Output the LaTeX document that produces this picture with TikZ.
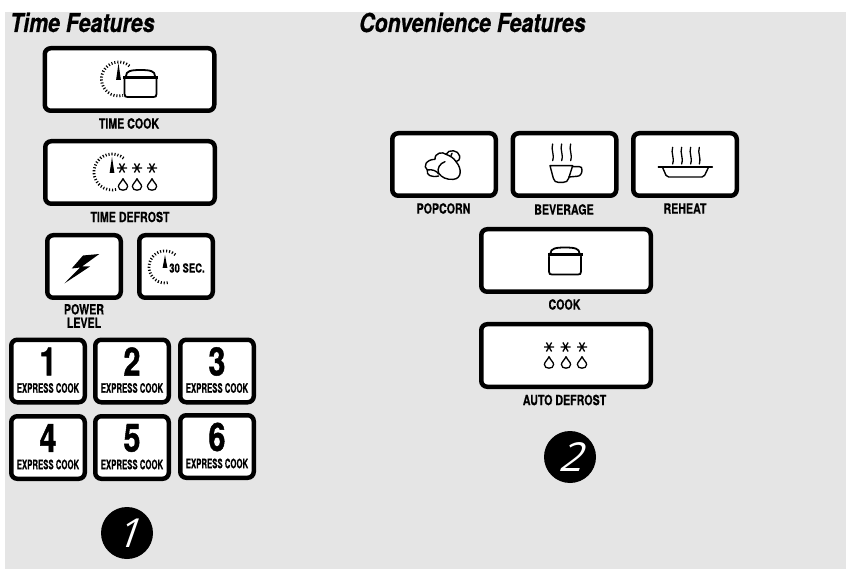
\documentclass[tikz,border=0pt]{standalone}
\usepackage{fontspec}
\setmainfont{Liberation Sans}
\newfontfamily\labfont[FakeStretch=0.76,FakeBold=0.5]{TeX Gyre Heros Bold}
\newfontfamily\keyfont[FakeStretch=0.60,FakeBold=0.5]{TeX Gyre Heros Bold}
\newfontfamily\digitfont[FakeStretch=0.78,FakeBold=1.2]{TeX Gyre Heros Bold}
\newfontfamily\headfont[FakeStretch=0.82,FakeBold=0.6]{TeX Gyre Heros Bold Italic}
\newfontfamily\handfont[FakeSlant=0.35]{Open Sans}
\definecolor{panel}{RGB}{229,229,229}
\tikzset{
  btn/.style={draw=black,fill=white,line width=4.5pt,rounded corners=6pt,minimum height=62.5pt,inner sep=0pt},
  bigbtn/.style={btn,minimum width=169.5pt},
  midbtn/.style={btn,minimum width=103.5pt},
  smallbtn/.style={btn,minimum width=73.5pt},
  keybtn/.style={btn,minimum width=73.5pt},
  lab/.style={font=\labfont\fontsize{14}{14}\selectfont,inner sep=0pt,align=center},
  keylab/.style={font=\keyfont\fontsize{13}{14}\selectfont,inner sep=0pt},
  digit/.style={font=\digitfont\fontsize{39}{40}\selectfont,inner sep=0pt},
  head/.style={font=\headfont\fontsize{26}{28}\selectfont,inner sep=0pt,anchor=base west},
  badge/.style={circle,fill=black,text=white,minimum size=52pt,inner sep=0pt,font=\handfont\fontsize{40}{42}\selectfont},
  icon/.style={line width=1.4pt,line cap=round,line join=round},
  tick/.style={line width=2.8pt,dash pattern=on 1.1pt off 1.9pt}
}
\newcommand{\potimg}[1]{\begin{scope}[shift={(#1)},icon,line width=1.8pt]
  \filldraw[fill=white] (1.5,3) -- (1.5,18) .. controls (1.5,20.5) and (2.5,21) .. (4.5,21) -- (30.5,21) .. controls (32.5,21) and (33.5,20.5) .. (33.5,18) -- (33.5,3);
  \filldraw[fill=white] (3,0) .. controls (3,-5) and (8,-6) .. (17.5,-6) .. controls (27,-6) and (32,-5) .. (32,0);
  \fill[black] (0,0) rectangle (35,3);
\end{scope}}
\newcommand{\dialimg}[3]{\draw[tick] ($(#1)+(-50:#2)$) arc[start angle=-50,end angle=-285,radius=#2];
  \fill ($(#1)+(0,-#3)$) -- ($(#1)+(-2.4,1)$) -- ($(#1)+(2.4,1)$) -- cycle;}
\newcommand{\snowimg}[1]{\draw[line width=1.3pt,shift={(#1)}] (-5,0) -- (5,0) (-2.6,-4.5) -- (2.6,4.5) (2.6,-4.5) -- (-2.6,4.5);}
\newcommand{\dropimg}[1]{\draw[line width=1.3pt,shift={(#1)}] (0,-6.5) .. controls (-1.2,-3) and (-4.6,-1) .. (-4.6,1.5) .. controls (-4.6,4) and (-2.5,5.2) .. (0,5.2) .. controls (2.5,5.2) and (4.6,4) .. (4.6,1.5) .. controls (4.6,-1) and (1.2,-3) .. (0,-6.5);}
\newcommand{\steamimg}[2]{\draw[icon,line width=1.3pt] (#1,#2) .. controls (#1-6,#2+18) and (#1+6,#2+28) .. (#1,#2+50);}
\usetikzlibrary{calc}
\begin{document}
\begin{tikzpicture}[x=1pt,y=-1pt]
\useasboundingbox (0,0) rectangle (846,569);
\fill[white] (0,0) rectangle (846,569);
\fill[panel] (5,12) rectangle (846,569);

\node[head] (h1) at (10,32) {Time Features};
\node[head] (h2) at (359,32) {Convenience Features};

% left column
\node[bigbtn] (tc) at (129.5,79.5) {};
\node[lab] (tcl) at (129,123.5) {TIME COOK};
\dialimg{118.5,79}{17}{16}
\potimg{123,76}

\node[bigbtn] (td) at (130,172.5) {};
\node[lab] (tdl) at (130,217) {TIME DEFROST};
\dialimg{112,172}{18}{15}
\snowimg{122,168}\snowimg{137,168}\snowimg{152,168}
\dropimg{123,185}\dropimg{137,185}\dropimg{152,185}

\node[smallbtn] (pl) at (84,266.5) {};
\node[lab] (pll) at (84,316) {POWER\\[-0.5pt]LEVEL};
\fill (99.3,254) -- (83,255.5) -- (71.7,268.5) -- (80,267.5) -- (64.3,283.5) -- (90,266.5) -- (82,266.5) -- cycle;

\node[smallbtn] (ts) at (176,266.5) {};
\dialimg{165,267}{16}{12}
\node[lab,font=\labfont\fontsize{12.5}{13}\selectfont] (tsl) at (187,268) {30 SEC.};

\foreach \nm/\x/\y/\d in {k1/48/371/1,k2/132/371/2,k3/217/371/3,k4/48/447.5/4,k5/132/447.5/5,k6/217/446.5/6}{
  \node[keybtn] (\nm) at (\x,\y) {};
  \node[digit] (\nm d) at (\x,\y-9.5) {\d};
  \node[keylab] (\nm l) at (\x,\y+17) {EXPRESS COOK};
}

\node[badge] (n1) at (127,533) {1};

% right column
\node[midbtn] (pop) at (444,164.5) {};
\node[lab] (popl) at (443.5,208.5) {POPCORN};
\begin{scope}[shift={(380,120)},scale=1/3,icon]
  \draw (176,168) .. controls (155,173) and (138,166) .. (142,150) .. controls (128,140) and (138,118) .. (165,118) .. controls (164,98) and (188,94) .. (198,103);
  \draw (198,103) .. controls (205,86) and (236,90) .. (239,108) .. controls (240,118) and (235,125) .. (228,125);
  \draw (198,103) .. controls (212,108) and (222,115) .. (228,125) .. controls (246,145) and (246,176) .. (220,178) .. controls (200,180) and (185,172) .. (176,160) .. controls (170,145) and (180,130) .. (195,125);
  \draw (142,150) .. controls (155,147) and (170,152) .. (176,162);
  \draw (216,100) -- (213,107);
\end{scope}

\node[midbtn] (bev) at (564.5,164.5) {};
\node[lab] (bevl) at (564,209.5) {BEVERAGE};
\begin{scope}[shift={(380,120)},scale=1/3,icon]
  \steamimg{518}{72}\steamimg{545}{72}\steamimg{572}{72}
  \draw (510,137) -- (578,137) -- (566,175) .. controls (563,184) and (558,187) .. (550,187) -- (535,187) .. controls (527,187) and (523,184) .. (520,175) -- cycle;
  \draw (578,140) -- (598,140) .. controls (604,140) and (606,143) .. (606,150) .. controls (606,162) and (600,169) .. (590,169) -- (566,171);
\end{scope}

\node[midbtn] (reh) at (685,164.5) {};
\node[lab] (rehl) at (685,208.5) {REHEAT};
\begin{scope}[shift={(380,120)},scale=1/3,icon]
  \steamimg{878}{82}\steamimg{905}{82}\steamimg{932}{82}\steamimg{958}{82}
  \draw (835,141) -- (997,141);
  \draw (848,143) -- (858,166) .. controls (860,170) and (862,171) .. (866,171) -- (966,171) .. controls (970,171) and (972,170) .. (974,166) -- (985,143);
\end{scope}

\node[bigbtn] (ck) at (566,260.5) {};
\node[lab] (ckl) at (564.5,304.5) {COOK};
\potimg{547.5,253.5}

\node[bigbtn] (ad) at (566,355.5) {};
\node[lab] (adl) at (564.5,400) {AUTO DEFROST};
\snowimg{549,347}\snowimg{565.5,347}\snowimg{582,347}
\dropimg{549,363}\dropimg{566,363}\dropimg{582,363}

\node[badge] (n2) at (570,457) {2};
\end{tikzpicture}
\end{document}
